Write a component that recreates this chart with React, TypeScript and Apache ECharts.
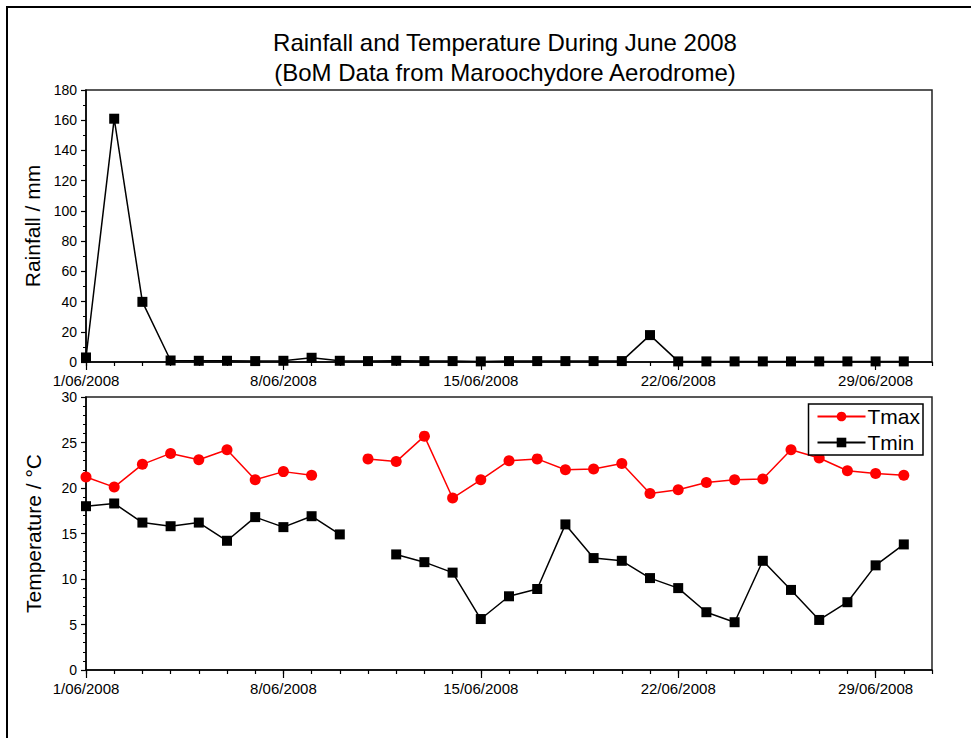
import React, { useEffect, useRef } from "react";
import * as echarts from "echarts";

// Day offsets from 1 June 2008 (0 = 1/06, 29 = 30/06)
const days: number[] = Array.from({ length: 30 }, (_, i) => i);

// Daily rainfall, mm
const rainfall: number[] = [
  3, 161, 39.8, 1.0, 0.8, 0.8, 0.6, 0.8, 2.8, 0.8,
  0.6, 0.8, 0.6, 0.6, 0.4, 0.6, 0.6, 0.6, 0.6, 0.6,
  17.8, 0.4, 0.4, 0.4, 0.4, 0.4, 0.4, 0.4, 0.4, 0.4,
];

// Daily maximum temperature, °C (null = no reading)
const tmax: (number | null)[] = [
  21.2, 20.1, 22.6, 23.8, 23.1, 24.2, 20.9, 21.8, 21.4, null,
  23.2, 22.9, 25.7, 18.9, 20.9, 23.0, 23.2, 22.0, 22.1, 22.7,
  19.4, 19.8, 20.6, 20.9, 21.0, 24.2, 23.3, 21.9, 21.6, 21.4,
];

// Daily minimum temperature, °C (null = no reading)
const tmin: (number | null)[] = [
  18.0, 18.3, 16.2, 15.8, 16.2, 14.2, 16.8, 15.7, 16.9, 14.9,
  null, 12.7, 11.85, 10.7, 5.6, 8.1, 8.9, 16.0, 12.3, 12.0,
  10.1, 9.0, 6.35, 5.25, 12.0, 8.8, 5.5, 7.45, 11.5, 13.8,
];

// Labelled dates on the day axis
const labelDays: number[] = [0, 7, 14, 21, 28];
const dayLabel = (d: number) => `${d + 1}/06/2008`;

const FONT = "Liberation Sans, Arial, sans-serif";
const pair = (ys: (number | null)[]) => days.map((d, i) => [d, ys[i]]);

export default function App() {
  const ref = useRef<HTMLDivElement>(null);

  useEffect(() => {
    if (!ref.current) return;
    const chart = echarts.init(ref.current, undefined, { renderer: "svg" });

    const grids = [
      { left: 86, right: 39, top: 90, height: 272 },
      { left: 86, right: 39, top: 397, height: 273 },
    ];

    // Daily ticks along the date axis
    const minorDayAxis = (gridIndex: number) => ({
      type: "value",
      gridIndex,
      position: "bottom",
      min: 0,
      max: 30,
      interval: 1,
      axisLine: { show: true, onZero: false, lineStyle: { color: "#000", width: 1.5 } },
      axisTick: { show: true, length: 4, lineStyle: { color: "#000", width: 1.2 } },
      axisLabel: { show: false },
      splitLine: { show: false },
    });

    // Weekly labelled ticks, drawn on top of the daily ones
    const majorDayAxis = (gridIndex: number) => ({
      type: "value",
      gridIndex,
      position: "bottom",
      min: 0,
      max: 30,
      interval: 1,
      axisLine: { show: false, onZero: false },
      axisTick: {
        show: true,
        length: 8,
        customValues: labelDays,
        lineStyle: { color: "#000", width: 1.2 },
      },
      axisLabel: {
        show: true,
        customValues: labelDays,
        formatter: (v: number) => dayLabel(v),
        color: "#000",
        fontFamily: FONT,
        fontSize: 15,
        margin: 11,
      },
      splitLine: { show: false },
    });

    const yAxisBase = {
      type: "value",
      nameLocation: "middle",
      nameRotate: 90,
      nameTextStyle: { color: "#000", fontFamily: FONT, fontSize: 21 },
      axisLine: { show: true, onZero: false, lineStyle: { color: "#000", width: 1.5 } },
      axisTick: { show: true, length: 5, lineStyle: { color: "#000", width: 1.2 } },
      minorTick: { show: true, length: 3, lineStyle: { color: "#000", width: 1 } },
      axisLabel: { color: "#000", fontFamily: FONT, fontSize: 14, margin: 9 },
      splitLine: { show: false },
      minorSplitLine: { show: false },
    };

    const titleStyle = { color: "#000", fontFamily: FONT, fontSize: 24, fontWeight: "normal" };

    chart.setOption({
      animation: false,
      backgroundColor: "#fff",
      title: [
        {
          text: "Rainfall and Temperature During June 2008",
          left: 500,
          top: 25,
          textAlign: "center",
          textStyle: titleStyle,
        },
        {
          text: "(BoM Data from Maroochydore Aerodrome)",
          left: 500,
          top: 55,
          textAlign: "center",
          textStyle: titleStyle,
        },
      ],
      graphic: [
        {
          type: "rect",
          shape: { x: 7, y: 7, width: 1100, height: 900 },
          style: { fill: "none", stroke: "#000", lineWidth: 2 },
          silent: true,
        },
      ],
      grid: grids.map((g) => ({
        ...g,
        show: true,
        borderColor: "#222",
        borderWidth: 1.5,
        backgroundColor: "transparent",
      })),
      legend: {
        orient: "vertical",
        right: 48,
        top: 404,
        data: ["Tmax", "Tmin"],
        itemWidth: 48,
        itemHeight: 12,
        itemGap: 5,
        padding: [2, 3, 2, 8],
        borderColor: "#000",
        borderWidth: 1.5,
        backgroundColor: "#fff",
        textStyle: { color: "#000", fontFamily: FONT, fontSize: 21, padding: [0, 0, 0, -3] },
      },
      xAxis: [minorDayAxis(0), majorDayAxis(0), minorDayAxis(1), majorDayAxis(1)],
      yAxis: [
        {
          ...yAxisBase,
          gridIndex: 0,
          min: 0,
          max: 180,
          interval: 20,
          minorTick: { ...yAxisBase.minorTick, splitNumber: 2 },
          name: "Rainfall / mm",
          nameGap: 42,
        },
        {
          ...yAxisBase,
          gridIndex: 1,
          min: 0,
          max: 30,
          interval: 5,
          minorTick: { ...yAxisBase.minorTick, splitNumber: 5 },
          name: "Temperature / °C",
          nameGap: 42,
        },
      ],
      series: [
        {
          name: "Rainfall",
          type: "line",
          xAxisIndex: 0,
          yAxisIndex: 0,
          data: pair(rainfall),
          symbol: "rect",
          symbolSize: 10,
          lineStyle: { color: "#000", width: 1.5 },
          itemStyle: { color: "#000" },
          z: 3,
        },
        {
          name: "Tmax",
          type: "line",
          xAxisIndex: 2,
          yAxisIndex: 1,
          data: pair(tmax),
          connectNulls: false,
          symbol: "circle",
          symbolSize: 11,
          lineStyle: { color: "#ff0000", width: 1.5 },
          itemStyle: { color: "#ff0000" },
          z: 3,
        },
        {
          name: "Tmin",
          type: "line",
          xAxisIndex: 2,
          yAxisIndex: 1,
          data: pair(tmin),
          connectNulls: false,
          symbol: "rect",
          symbolSize: 10,
          lineStyle: { color: "#000", width: 1.5 },
          itemStyle: { color: "#000" },
          z: 3,
        },
      ],
    });

    return () => chart.dispose();
  }, []);

  return (
    <div
      ref={ref}
      style={{ position: "fixed", left: 0, top: 0, width: 971, height: 738, background: "#fff" }}
    />
  );
}
